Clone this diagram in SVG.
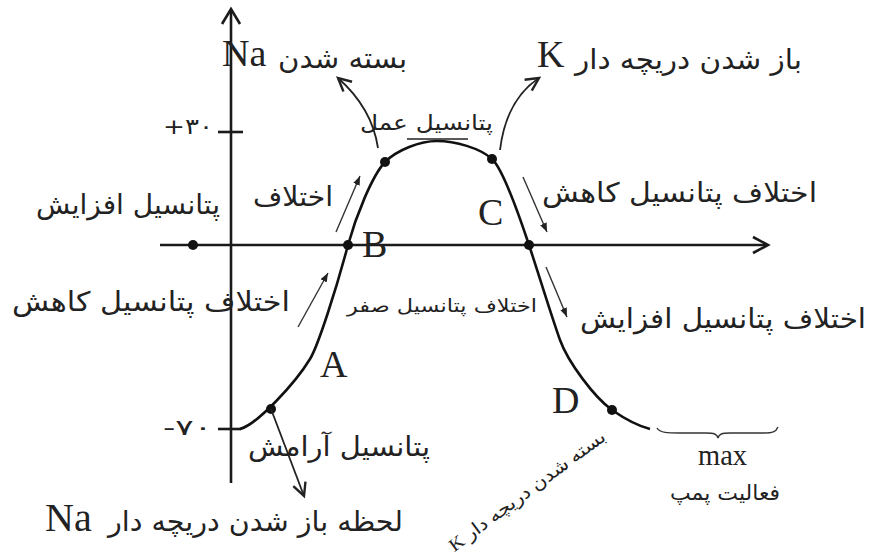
<svg xmlns="http://www.w3.org/2000/svg" width="869" height="557" viewBox="0 0 869 557">
<defs>
<style>
.ax{stroke:#1a1a1a;stroke-width:2.6;fill:none}
.cv{stroke:#111;stroke-width:2.6;fill:none}
.dot{fill:#111}
.fa{font-family:"DejaVu Sans","Noto Sans",sans-serif;fill:#222}
.lat{font-family:"Liberation Serif","DejaVu Sans",serif;fill:#222}
.big{stroke:#222;stroke-width:1.8;fill:none}
.sm{stroke:#333;stroke-width:1.4;fill:none}
</style>
<marker id="open" markerUnits="userSpaceOnUse" markerWidth="18" markerHeight="18" refX="15" refY="8" orient="auto">
<path d="M2,1.5 L15,8 L2,14.5" fill="none" stroke="#222" stroke-width="2.4"/>
</marker>
<marker id="fill" markerUnits="userSpaceOnUse" markerWidth="10" markerHeight="8" refX="9" refY="3.5" orient="auto">
<path d="M0,0 L9,3.5 L0,7 z" fill="#222"/>
</marker>
</defs>
<rect width="869" height="557" fill="#fff"/>

<g id="axes">
<line class="ax" x1="231" y1="10" x2="231" y2="483"/>
<polyline class="ax" points="222,24 231,9 240,24"/>
<line class="ax" x1="160" y1="245" x2="766" y2="245"/>
<polyline class="ax" points="753,237 768,245 753,253"/>
<line class="ax" x1="218" y1="132" x2="243" y2="132"/>
<line class="ax" x1="218" y1="429" x2="241" y2="429"/>
<text class="fa" x="163" y="134" font-size="22" textLength="50" lengthAdjust="spacingAndGlyphs">+۳۰</text>
<text class="fa" x="163" y="435" font-size="22" textLength="49" lengthAdjust="spacingAndGlyphs">-۷۰</text>
</g>

<g id="curve">
<path class="cv" d="M240,429 C258,424 296,382 310,359 C318,346 336,290 348,245 C356,216 372,176 385,162 C397,150 420,141 437,141 C455,141 480,148 492,159 C503,169 520,218 529,245 C538,272 552,318 560,340 C568,362 594,397 612,410 C625,419 638,426 650,429"/>
</g>

<g id="points">
<circle class="dot" cx="193" cy="245" r="5"/>
<circle class="dot" cx="271" cy="409" r="5"/>
<circle class="dot" cx="348" cy="245" r="5"/>
<circle class="dot" cx="385" cy="162" r="5"/>
<circle class="dot" cx="492" cy="159" r="5"/>
<circle class="dot" cx="529" cy="245" r="5"/>
<circle class="dot" cx="612" cy="410" r="5"/>
</g>

<g id="point-labels">
<text class="lat" x="320" y="377" font-size="38">A</text>
<text class="lat" x="362" y="257" font-size="38">B</text>
<text class="lat" x="478" y="225" font-size="38">C</text>
<text class="lat" x="552" y="413" font-size="38">D</text>
</g>

<g id="connectors">
<path class="big" d="M378,148 Q372,108 338,78" marker-end="url(#open)"/>
<path class="big" d="M500,150 Q506,100 539,78" marker-end="url(#open)"/>
<line class="big" x1="271" y1="409" x2="304" y2="496" marker-end="url(#open)"/>
<line class="sm" x1="336" y1="232" x2="360" y2="176" marker-end="url(#fill)"/>
<line class="sm" x1="298" y1="327" x2="328" y2="273" marker-end="url(#fill)"/>
<line class="sm" x1="523" y1="177" x2="547" y2="232" marker-end="url(#fill)"/>
<line class="sm" x1="546" y1="267" x2="567" y2="317" marker-end="url(#fill)"/>
</g>

<g id="na-close">
<text class="lat" x="222" y="66" font-size="38">Na</text>
<text class="fa" x="278" y="68" font-size="28" textLength="129" lengthAdjust="spacingAndGlyphs">بسته شدن</text>
</g>

<g id="k-open">
<text class="lat" x="537" y="67" font-size="38">K</text>
<text class="fa" x="575" y="69" font-size="28" textLength="227" lengthAdjust="spacingAndGlyphs">باز شدن دریچه دار</text>
</g>

<g id="action-potential">
<text class="fa" x="360" y="130" font-size="21" textLength="133" lengthAdjust="spacingAndGlyphs">پتانسیل عمل</text>
<line x1="407" y1="139" x2="468" y2="139" stroke="#222" stroke-width="1.5"/>
</g>

<g id="rise-upper">
<text class="fa" x="253" y="206" font-size="27" textLength="80" lengthAdjust="spacingAndGlyphs">اختلاف</text>
<text class="fa" x="36" y="214" font-size="27" textLength="184" lengthAdjust="spacingAndGlyphs">پتانسیل افزایش</text>
</g>

<g id="fall-lower">
<text class="fa" x="12" y="311" font-size="27" textLength="278" lengthAdjust="spacingAndGlyphs">اختلاف پتانسیل کاهش</text>
</g>

<g id="zero">
<text class="fa" x="347" y="312" font-size="18" textLength="190" lengthAdjust="spacingAndGlyphs">اختلاف پتانسیل صفر</text>
</g>

<g id="fall-right">
<text class="fa" x="542" y="202" font-size="27" textLength="275" lengthAdjust="spacingAndGlyphs">اختلاف پتانسیل کاهش</text>
</g>

<g id="rise-right">
<text class="fa" x="580" y="328" font-size="27" textLength="286" lengthAdjust="spacingAndGlyphs">اختلاف پتانسیل افزایش</text>
</g>

<g id="rest">
<text class="fa" x="248" y="456" font-size="27" textLength="182" lengthAdjust="spacingAndGlyphs">پتانسیل آرامش</text>
</g>

<g id="na-open">
<text class="lat" x="45" y="531" font-size="40">Na</text>
<text class="fa" x="108" y="531" font-size="28" textLength="295" lengthAdjust="spacingAndGlyphs">لحظه باز شدن دریچه دار</text>
</g>

<g id="k-close">
<text class="lat" x="527" y="497" font-size="18" direction="rtl" text-anchor="middle" textLength="190" lengthAdjust="spacingAndGlyphs" transform="rotate(-36.5 527 491)">بسته شدن دریچه دار K</text>
</g>

<g id="pump">
<path class="sm" d="M657,428 C660,433 668,433 680,433 L706,433 C714,433 717,434 718,438 C719,434 722,433 730,433 L764,433 C772,433 776,432 778,427"/>
<text class="lat" x="698" y="465" font-size="30" textLength="49" lengthAdjust="spacingAndGlyphs">max</text>
<text class="fa" x="670" y="500" font-size="21" textLength="110" lengthAdjust="spacingAndGlyphs">فعالیت پمپ</text>
</g>
</svg>
